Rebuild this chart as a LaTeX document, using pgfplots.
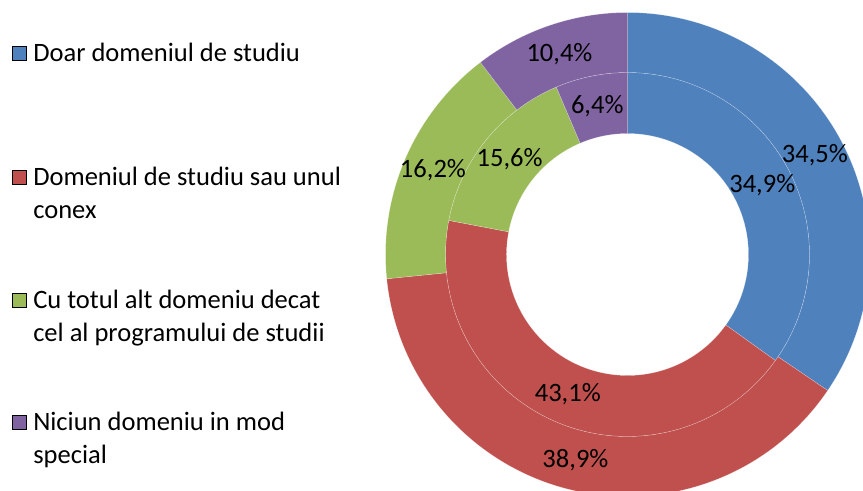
\documentclass[border=0pt]{standalone}
\usepackage{pgfplots}
\pgfplotsset{compat=1.18}
\usepackage{pgfplotstable}
\usepackage{fontspec}
\setmainfont{Carlito}
\definecolor{cblue}{HTML}{4F81BD}
\definecolor{cred}{HTML}{C0504D}
\definecolor{cgreen}{HTML}{9BBB59}
\definecolor{cpurple}{HTML}{8064A2}
\newcommand\lbl{\fontsize{19.9}{25}\selectfont}

% share (%) of each category: inner ring and outer ring
\pgfplotstableread{
outer inner color
34.5 34.9 cblue
38.9 43.1 cred
16.2 15.6 cgreen
10.4 6.4 cpurple
}\donutdata

\newcommand\drawring[3]{%
  \xdef\angstart{90}%
  \foreach \i in {0,1,2,3}{%
    \pgfplotstablegetelem{\i}{#1}\of\donutdata\let\val\pgfplotsretval
    \pgfplotstablegetelem{\i}{color}\of\donutdata\let\col\pgfplotsretval
    \pgfmathsetmacro\angend{\angstart-3.6*\val}%
    \edef\temp{\noexpand\fill[\col, draw=white, draw opacity=0.4, line width=0.3pt] ([shift={(\angstart:#3pt)}]c) arc[start angle=\angstart, end angle=\angend, radius=#3pt] -- ([shift={(\angend:#2pt)}]c) arc[start angle=\angend, end angle=\angstart, radius=#2pt] -- cycle;}%
    \temp
    \xdef\angstart{\angend}%
  }%
}
\newcommand\labelring[3]{%
  \xdef\angstart{90}%
  \foreach \i in {0,1,2,3}{%
    \pgfplotstablegetelem{\i}{#1}\of\donutdata\let\val\pgfplotsretval
    \pgfmathsetmacro\angend{\angstart-3.6*\val}%
    \pgfmathsetmacro\angmid{(\angstart+\angend)/2}%
    \pgfmathsetmacro\rmid{(#2+#3)/2}%
    \edef\temp{\noexpand\node[font=\noexpand\lbl, inner sep=0pt] at ([shift={(\angmid:\rmid pt)}]c) {\noexpand\pgfmathprintnumber[fixed,fixed zerofill,precision=1,use comma,assume math mode=true]{\val}\noexpand\%};}%
    \temp
    \xdef\angstart{\angend}%
  }%
}

\begin{document}
\begin{tikzpicture}
\path[use as bounding box, clip] (0,0) rectangle (647.25pt,367.5pt);
\begin{axis}[at={(0,0)}, anchor=south west,
  width=647.25pt, height=367.5pt, scale only axis,
  xmin=0, xmax=863, ymin=-490, ymax=0,
  enlargelimits=false, hide axis, clip=false]
\coordinate (c) at (axis cs:627.5,-254.5);
\drawring{inner}{90.75}{136.5}
\drawring{outer}{136.5}{181.5}
\labelring{inner}{90.75}{136.5}
\labelring{outer}{136.5}{181.5}
% legend
\addplot[only marks, mark=square*, mark size=5.44pt, mark options={draw=none, fill=cblue}] coordinates {(19.5,-53.5)};
\addplot[only marks, mark=square*, mark size=5.44pt, mark options={draw=none, fill=cred}] coordinates {(19.5,-177.5)};
\addplot[only marks, mark=square*, mark size=5.44pt, mark options={draw=none, fill=cgreen}] coordinates {(19.5,-300.5)};
\addplot[only marks, mark=square*, mark size=5.44pt, mark options={draw=none, fill=cpurple}] coordinates {(19.5,-422.5)};
\node[anchor=base west, inner sep=0pt, font=\lbl] at (axis cs:33,-61.5) {Doar domeniul de studiu};
\node[anchor=base west, inner sep=0pt, font=\lbl] at (axis cs:33,-185) {Domeniul de studiu sau unul};
\node[anchor=base west, inner sep=0pt, font=\lbl] at (axis cs:33,-218) {conex};
\node[anchor=base west, inner sep=0pt, font=\lbl] at (axis cs:33,-308) {Cu totul alt domeniu decat};
\node[anchor=base west, inner sep=0pt, font=\lbl] at (axis cs:33,-341.5) {cel al programului de studii};
\node[anchor=base west, inner sep=0pt, font=\lbl] at (axis cs:33,-430) {Niciun domeniu in mod};
\node[anchor=base west, inner sep=0pt, font=\lbl] at (axis cs:33,-463.5) {special};
\end{axis}
\end{tikzpicture}
\end{document}
